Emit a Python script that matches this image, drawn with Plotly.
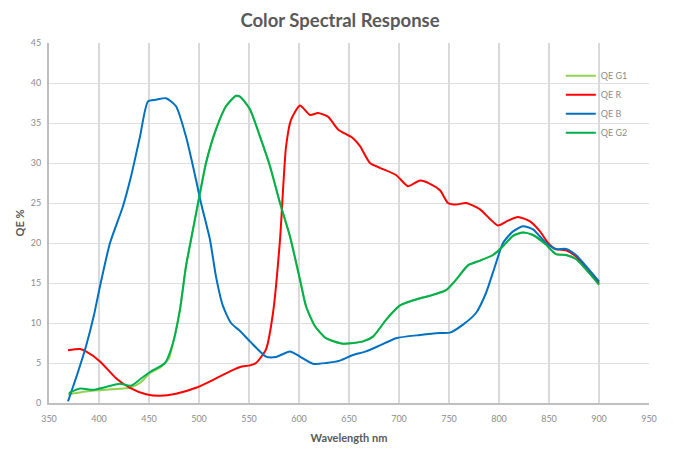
import plotly.graph_objects as go

# ---- data ----
g1_nm = [369, 387, 401, 418, 431, 442, 451, 461, 470, 474, 481, 487, 494, 501, 507, 517, 527, 537, 541,
         551, 561, 571, 581, 591, 601, 607, 616, 627, 644, 664, 674, 687, 701, 721, 731, 747, 757, 769,
         781, 794, 804, 814, 824, 834, 847, 857, 867, 877, 887, 900]
g1_qe = [1.1, 1.45, 1.6, 1.75, 1.9, 2.6, 3.75, 4.4, 5.6, 7.5, 11.7, 17.1, 21.7, 26.25, 30, 34.2, 37.1, 38.4, 38.3,
         36.7, 33.3, 29.6, 25, 20.8, 15.4, 12.1, 9.6, 8.1, 7.4, 7.7, 8.3, 10.4, 12.2, 13.1, 13.4, 14.1, 15.4, 17.2,
         17.8, 18.5, 19.6, 20.9, 21.3, 21.0, 19.8, 18.6, 18.5, 18.0, 16.7, 14.8]

r_nm = [369, 381, 387, 401, 417, 431, 447, 461, 477, 497, 511, 531, 541, 551, 557, 567, 574, 581, 587, 592,
        601, 611, 619, 629, 639, 654, 661, 671, 681, 697, 709, 721, 731, 741, 749, 757, 767, 781, 791, 799,
        809, 819, 831, 841, 849, 857, 867, 877, 887, 900]
r_qe = [6.6, 6.75, 6.45, 5.2, 3.1, 1.9, 1.1, 0.9, 1.15, 1.9, 2.7, 3.95, 4.5, 4.7, 5.0, 6.7, 11.25, 20.4, 32, 35.4,
        37.2, 36, 36.25, 35.8, 34.2, 33.1, 32.1, 30, 29.4, 28.5, 27.1, 27.8, 27.4, 26.6, 25, 24.8, 25, 24.2, 23, 22.2,
        22.8, 23.25, 22.7, 21.45, 20, 19.2, 19.1, 18.3, 16.9, 15.0]

b_nm = [369, 378, 387, 395, 401, 411, 424, 432, 441, 449, 457, 467, 477, 487, 497, 502, 511, 517, 524, 532,
        541, 551, 567, 577, 591, 601, 614, 627, 641, 654, 667, 681, 697, 721, 741, 751, 764, 777, 787, 796,
        804, 814, 824, 834, 847, 857, 867, 877, 887, 900]
b_qe = [0.2, 3.5, 7.1, 11, 14.6, 20, 24.6, 28.3, 33.3, 37.7, 37.9, 38.1, 37.1, 33.3, 27.9, 25, 20.4, 15.8, 12.1, 10,
        9.0, 7.7, 5.8, 5.75, 6.45, 5.8, 4.9, 5.0, 5.3, 6.0, 6.45, 7.2, 8.1, 8.5, 8.75, 8.8, 9.8, 11.25, 13.75, 17.1,
        20, 21.45, 22.1, 21.7, 20, 19.25, 19.25, 18.5, 17.1, 15.2]

g2_nm = [370, 381, 394, 407, 421, 432, 444, 454, 466, 474, 481, 487, 494, 501, 507, 517, 527, 537, 541,
         551, 561, 571, 581, 591, 601, 607, 616, 627, 644, 664, 674, 687, 701, 721, 731, 747, 757, 769,
         781, 794, 804, 814, 824, 834, 847, 857, 867, 877, 887, 900]
g2_qe = [1.25, 1.8, 1.65, 2.0, 2.4, 2.15, 3.25, 4.1, 5.0, 7.5, 11.7, 17.1, 21.7, 26.25, 30, 34.2, 37.1, 38.4, 38.3,
         36.7, 33.3, 29.6, 25, 20.8, 15.4, 12.1, 9.6, 8.1, 7.4, 7.7, 8.3, 10.4, 12.2, 13.1, 13.4, 14.1, 15.4, 17.2,
         17.8, 18.5, 19.6, 20.9, 21.3, 21.0, 19.8, 18.6, 18.5, 18.0, 16.7, 14.8]

series_names = ["QE G1", "QE R", "QE B", "QE G2"]
series_x = [g1_nm, r_nm, b_nm, g2_nm]
series_y = [g1_qe, r_qe, b_qe, g2_qe]
series_colors = ["#92d050", "#ff0000", "#0070c0", "#00b050"]

title_text = "Color Spectral Response"
x_title = "Wavelength nm"
y_title = "QE %"

FONT = "Lato, 'Open Sans', sans-serif"

fig = go.Figure()
for i, (name, xs, ys, col) in enumerate(zip(series_names, series_x, series_y, series_colors)):
    fig.add_trace(go.Scatter(
        x=xs, y=ys, name=name, mode="lines",
        line=dict(color=col, width=2, shape="spline", smoothing=0.6),
        legendgroup=f"g{i}",
    ))

fig.update_layout(
    width=680, height=460,
    margin=dict(l=49, r=31, t=43, b=57),
    paper_bgcolor="white", plot_bgcolor="white",
    font=dict(family=FONT, color="#8c8c8c", size=9),
    title=dict(text=f"<b>{title_text}</b>", x=0.5, xanchor="center", y=0.955, yanchor="middle",
               font=dict(family=FONT, size=18.5, color="#595959")),
    showlegend=True,
    legend=dict(x=0.853, xanchor="left", y=0.949, yanchor="top",
                bgcolor="rgba(0,0,0,0)", font=dict(size=9, color="#8c8c8c", family=FONT),
                traceorder="grouped", tracegroupgap=0, itemwidth=30),
)
fig.update_xaxes(
    range=[350, 950], dtick=50, tick0=350, automargin=False,
    showgrid=True, gridcolor="#d9d9d9", gridwidth=1.5,
    showline=True, linecolor="#bfbfbf", linewidth=2,
    ticks="", ticklabelstandoff=6,
    tickfont=dict(size=9, color="#8c8c8c"),
    title=dict(text=f"<b>{x_title}</b>", font=dict(size=11, color="#595959"), standoff=12),
    zeroline=False,
)
fig.update_yaxes(
    range=[0, 45], dtick=5, tick0=0, automargin=False,
    showgrid=True, gridcolor="#dedede", gridwidth=1,
    showline=True, linecolor="#bfbfbf", linewidth=2,
    ticks="", ticklabelstandoff=4,
    tickfont=dict(size=9, color="#8c8c8c"),
    title=dict(text=f"<b>{y_title}</b>", font=dict(size=11, color="#595959"), standoff=4),
    zeroline=False,
)

fig.write_html("out.html", config={"displayModeBar": False},
               post_script="document.body.style.margin='0';")
